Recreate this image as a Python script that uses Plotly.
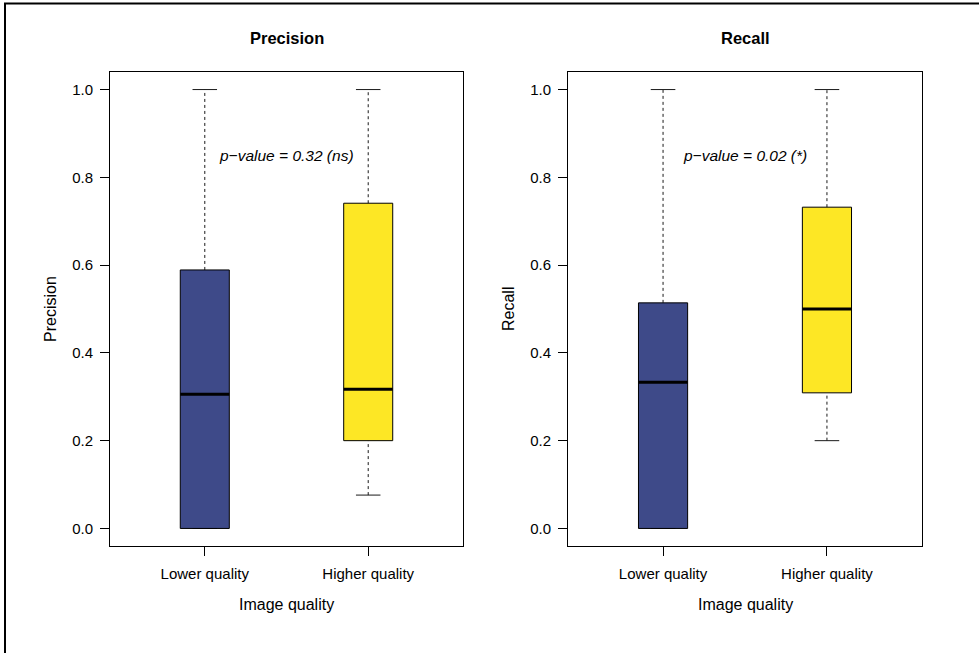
import plotly.graph_objects as go

W, H = 979, 653

categories = ["Lower quality", "Higher quality"]
positions = [1, 2]
colors = ["#3E4A89", "#FDE725"]

# box statistics: [whisker_low, q1, median, q3, whisker_high]
precision_stats = [
    [0.0, 0.0, 0.306, 0.589, 1.0],
    [0.076, 0.2, 0.317, 0.741, 1.0],
]
recall_stats = [
    [0.0, 0.0, 0.333, 0.514, 1.0],
    [0.2, 0.309, 0.5, 0.732, 1.0],
]
panel_titles = ["Precision", "Recall"]
ylabels = ["Precision", "Recall"]
xlabel = "Image quality"
pvalue_texts = ["p\u2212value = 0.32 (ns)", "p\u2212value = 0.02 (*)"]
yticks = [0.0, 0.2, 0.4, 0.6, 0.8, 1.0]
ytick_text = ["0.0", "0.2", "0.4", "0.6", "0.8", "1.0"]

FONT = "Liberation Sans, Arial, Helvetica, sans-serif"
BOXW = 0.3
CAPW = 0.15

fig = go.Figure()
shapes = []
annotations = []

# panel geometry in pixels
xdoms = [(110, 463), (568, 922)]
ytop, ybot = 72, 546

def px2paper_x(p):
    return p / W

def px2paper_y(p):
    return 1 - p / H

panels = [precision_stats, recall_stats]
for i, stats in enumerate(panels):
    xr = "x" if i == 0 else "x2"
    yr = "y" if i == 0 else "y2"
    for pos, st, col in zip(positions, stats, colors):
        lo, q1, med, q3, hi = st
        # whiskers (dashed)
        for a, b in [(lo, q1), (q3, hi)]:
            if b > a:
                shapes.append(dict(type="line", xref=xr, yref=yr, x0=pos, x1=pos, y0=a, y1=b,
                                   line=dict(color="#1a1a1a", width=1, dash="3px,3px")))
        # caps
        for v in [lo, hi]:
            shapes.append(dict(type="line", xref=xr, yref=yr, x0=pos - CAPW / 2, x1=pos + CAPW / 2,
                               y0=v, y1=v, line=dict(color="#1a1a1a", width=1)))
        # box
        shapes.append(dict(type="rect", xref=xr, yref=yr, x0=pos - BOXW / 2, x1=pos + BOXW / 2,
                           y0=q1, y1=q3, fillcolor=col, line=dict(color="black", width=1)))
        # median
        shapes.append(dict(type="line", xref=xr, yref=yr, x0=pos - BOXW / 2, x1=pos + BOXW / 2,
                           y0=med, y1=med, line=dict(color="black", width=3)))
    # invisible trace to activate axes
    fig.add_trace(go.Scatter(x=positions, y=[s[2] for s in stats], mode="markers",
                             marker=dict(opacity=0), hoverinfo="skip", showlegend=False,
                             xaxis=xr, yaxis=yr))
    # p-value annotation
    annotations.append(dict(xref=xr, yref=yr, x=1.5, y=0.85, text="<i>%s</i>" % pvalue_texts[i],
                            showarrow=False, xanchor="center", yanchor="middle",
                            font=dict(family=FONT, size=15.5, color="black")))
    cx = (xdoms[i][0] + xdoms[i][1]) / 2
    annotations.append(dict(xref="paper", yref="paper", x=px2paper_x(cx), y=px2paper_y(38),
                            text="<b>%s</b>" % panel_titles[i], showarrow=False,
                            xanchor="center", yanchor="middle",
                            font=dict(family=FONT, size=16.5, color="black")))
    annotations.append(dict(xref="paper", yref="paper", x=px2paper_x(cx), y=px2paper_y(604),
                            text=xlabel, showarrow=False, xanchor="center", yanchor="middle",
                            font=dict(family=FONT, size=16, color="black")))
    annotations.append(dict(xref="paper", yref="paper", x=px2paper_x(xdoms[i][0] - 60),
                            y=px2paper_y((ytop + ybot) / 2), text=ylabels[i], textangle=-90,
                            showarrow=False, xanchor="center", yanchor="middle",
                            font=dict(family=FONT, size=16, color="black")))

# outer frame (left and top edges visible)
shapes.append(dict(type="rect", xref="paper", yref="paper", x0=5 / W, x1=1.2, y0=-0.2, y1=1 - 3.5 / H,
                   line=dict(color="black", width=2), fillcolor="rgba(0,0,0,0)", layer="above"))

axis_common = dict(showgrid=False, zeroline=False, showline=True, mirror=True, linecolor="black",
                   linewidth=1, ticks="outside", ticklen=9, tickcolor="black", tickwidth=1,
                   tickfont=dict(family=FONT, size=15, color="black"), automargin=False)

for i, (x0, x1) in enumerate(xdoms):
    xa = dict(axis_common, domain=[px2paper_x(x0), px2paper_x(x1)], range=[0.42, 2.58],
              tickvals=positions, ticktext=categories, anchor="y" if i == 0 else "y2",
              ticklabelstandoff=5)
    ya = dict(axis_common, domain=[px2paper_y(ybot), px2paper_y(ytop)], range=[-0.04, 1.04],
              tickvals=yticks, ticktext=ytick_text, anchor="x" if i == 0 else "x2",
              ticklabelstandoff=4)
    if i == 0:
        fig.update_layout(xaxis=xa, yaxis=ya)
    else:
        fig.update_layout(xaxis2=xa, yaxis2=ya)

fig.update_layout(width=W, height=H, margin=dict(l=0, r=0, t=0, b=0),
                  paper_bgcolor="white", plot_bgcolor="white", shapes=shapes,
                  annotations=annotations, showlegend=False)

fig.write_html("out.html", config={"displayModeBar": False})
